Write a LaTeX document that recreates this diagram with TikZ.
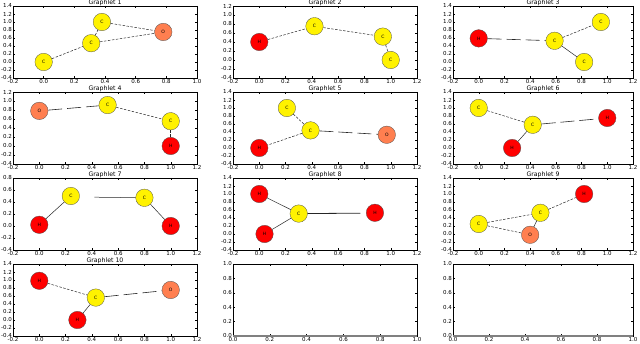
\documentclass[tikz,border=0pt]{standalone}
\usepackage{fontspec}
\setmainfont{DejaVu Sans}
\usepackage{tikz}

\definecolor{coral}{RGB}{255,127,80}

\newcommand{\ticksA}{-0.2,0.0,0.2,0.4,0.6,0.8,1.0}
\newcommand{\ticksB}{-0.2,0.0,0.2,0.4,0.6,0.8,1.0,1.2}
\newcommand{\ticksC}{-0.4,-0.2,0.0,0.2,0.4,0.6,0.8,1.0,1.2,1.4}
\newcommand{\ticksD}{-0.4,-0.2,0.0,0.2,0.4,0.6,0.8,1.0,1.2}
\newcommand{\ticksE}{-0.4,-0.2,0.0,0.2,0.4,0.6,0.8}
\newcommand{\ticksF}{0.0,0.2,0.4,0.6,0.8,1.0}

\tikzset{
    atom/.style={circle,draw=black!70,line width=0.3pt,minimum size=17.5pt,
        inner sep=0pt,font=\fontsize{4.5}{5}\selectfont},
    carbon/.style={atom,fill=yellow},
    hydrogen/.style={atom,fill=red},
    oxygen/.style={atom,fill=coral},
    bond/.style={line width=0.5pt,black!85,dash pattern=on 2.5pt off 1.5pt},
    longbond/.style={line width=0.6pt,black!85,dash pattern=on 14pt off 5pt},
    solidbond/.style={line width=0.5pt,black!85},
    ticklabel/.style={inner sep=1pt,font=\fontsize{5.5}{6}\selectfont},
    paneltitle/.style={inner sep=0.5pt,font=\fontsize{6.2}{7}\selectfont},
}

\newcommand{\panelframe}[8]{%
    \draw[line width=0.6pt] (#1,#3) rectangle (#2,#4);
    \foreach \t [count=\i] in #5 {
        \draw (\t,#3) -- ++(0,2pt) (\t,#4) -- ++(0,-2pt);
        \node[ticklabel,below] (#8x\i) at (\t,#3) {\t};
    }
    \foreach \t [count=\i] in #6 {
        \draw (#1,\t) -- ++(2pt,0) (#2,\t) -- ++(-2pt,0);
        \node[ticklabel,left] (#8y\i) at (#1,\t) {\t};
    }
    \node[paneltitle,above] (#8t) at ({(#1+#2)/2},#4) {#7};
}

\begin{document}
\begin{tikzpicture}[x=1pt,y=1pt]
    \useasboundingbox (0,0) rectangle (640,344);

    \begin{scope}[shift={(13,266)},x=153.33pt,y=40pt,shift={(0.2,0.4)}]
        \panelframe{-0.2}{1.0}{-0.4}{1.4}{\ticksA}{\ticksC}{Graphlet 1}{g1}
        \node[carbon] (g1a) at (0,0) {C};
        \node[carbon] (g1b) at (0.31,0.47) {C};
        \node[carbon] (g1c) at (0.38,1.0) {C};
        \node[oxygen] (g1d) at (0.78,0.75) {O};
        \draw[bond] (g1a) -- (g1b);
        \draw[bond] (g1b) -- (g1c);
        \draw[bond] (g1c) -- (g1d);
        \draw[bond] (g1b) -- (g1d);
    \end{scope}

    \begin{scope}[shift={(233,266)},x=131.43pt,y=45pt,shift={(0.2,0.4)}]
        \panelframe{-0.2}{1.2}{-0.4}{1.2}{\ticksB}{\ticksD}{Graphlet 2}{g2}
        \node[hydrogen] (g2a) at (0,0.4) {H};
        \node[carbon] (g2b) at (0.42,0.75) {C};
        \node[carbon] (g2c) at (0.94,0.52) {C};
        \node[carbon] (g2d) at (1.0,0.0) {C};
        \draw[bond] (g2a) -- (g2b);
        \draw[bond] (g2b) -- (g2c);
        \draw[bond] (g2c) -- (g2d);
    \end{scope}

    \begin{scope}[shift={(453,266)},x=128.57pt,y=40pt,shift={(0.2,0.4)}]
        \panelframe{-0.2}{1.2}{-0.4}{1.4}{\ticksB}{\ticksC}{Graphlet 3}{g3}
        \node[hydrogen] (g3a) at (0,0.59) {H};
        \node[carbon] (g3b) at (0.59,0.53) {C};
        \node[carbon] (g3c) at (0.95,1.0) {C};
        \node[carbon] (g3d) at (0.82,0.0) {C};
        \draw[longbond] (g3a) -- (g3b);
        \draw[bond] (g3b) -- (g3c);
        \draw[solidbond] (g3b) -- (g3d);
    \end{scope}

    \begin{scope}[shift={(13,180)},x=131.43pt,y=45pt,shift={(0.2,0.4)}]
        \panelframe{-0.2}{1.2}{-0.4}{1.2}{\ticksB}{\ticksD}{Graphlet 4}{g4}
        \node[oxygen] (g4a) at (0,0.78) {O};
        \node[carbon] (g4b) at (0.52,0.91) {C};
        \node[carbon] (g4c) at (1.0,0.55) {C};
        \node[hydrogen] (g4d) at (1.0,0.0) {H};
        \draw[longbond] (g4a) -- (g4b);
        \draw[bond] (g4b) -- (g4c);
        \draw[bond] (g4c) -- (g4d);
    \end{scope}

    \begin{scope}[shift={(233,180)},x=131.43pt,y=40pt,shift={(0.2,0.4)}]
        \panelframe{-0.2}{1.2}{-0.4}{1.4}{\ticksB}{\ticksC}{Graphlet 5}{g5}
        \node[carbon] (g5a) at (0.21,1.0) {C};
        \node[carbon] (g5b) at (0.39,0.44) {C};
        \node[hydrogen] (g5c) at (0,0) {H};
        \node[oxygen] (g5d) at (0.97,0.33) {O};
        \draw[bond] (g5a) -- (g5b);
        \draw[bond] (g5b) -- (g5c);
        \draw[longbond] (g5b) -- (g5d);
    \end{scope}

    \begin{scope}[shift={(453,180)},x=128.57pt,y=40pt,shift={(0.2,0.4)}]
        \panelframe{-0.2}{1.2}{-0.4}{1.4}{\ticksB}{\ticksC}{Graphlet 6}{g6}
        \node[carbon] (g6a) at (0,1.0) {C};
        \node[carbon] (g6b) at (0.42,0.58) {C};
        \node[hydrogen] (g6c) at (0.26,0) {H};
        \node[hydrogen] (g6d) at (1.0,0.75) {H};
        \draw[bond] (g6a) -- (g6b);
        \draw[solidbond] (g6b) -- (g6c);
        \draw[longbond] (g6b) -- (g6d);
    \end{scope}

    \begin{scope}[shift={(13,94)},x=131.43pt,y=60pt,shift={(0.2,0.4)}]
        \panelframe{-0.2}{1.2}{-0.4}{0.8}{\ticksB}{\ticksE}{Graphlet 7}{g7}
        \node[hydrogen] (g7a) at (0,0.02) {H};
        \node[carbon] (g7b) at (0.24,0.5) {C};
        \node[carbon] (g7c) at (0.8,0.47) {C};
        \node[hydrogen] (g7d) at (1.0,0.0) {H};
        \coordinate (g7e) at (0.42,0.48);
        \draw[solidbond] (g7a) -- (g7b);
        \draw[solidbond] (g7e) -- (g7c);
        \draw[solidbond] (g7c) -- (g7d);
    \end{scope}

    \begin{scope}[shift={(233,94)},x=131.43pt,y=40pt,shift={(0.2,0.4)}]
        \panelframe{-0.2}{1.2}{-0.4}{1.4}{\ticksB}{\ticksC}{Graphlet 8}{g8}
        \node[hydrogen] (g8a) at (0,1.0) {H};
        \node[carbon] (g8b) at (0.3,0.51) {C};
        \node[hydrogen] (g8c) at (0.04,0) {H};
        \node[hydrogen] (g8d) at (0.88,0.53) {H};
        \coordinate (g8e) at (0.77,0.52);
        \draw[solidbond] (g8a) -- (g8b);
        \draw[solidbond] (g8b) -- (g8c);
        \draw[solidbond,line width=0.8pt] (g8b) -- (g8e);
    \end{scope}

    \begin{scope}[shift={(453,94)},x=128.57pt,y=40pt,shift={(0.2,0.4)}]
        \panelframe{-0.2}{1.2}{-0.4}{1.4}{\ticksB}{\ticksC}{Graphlet 9}{g9}
        \node[carbon] (g9a) at (0,0.25) {C};
        \node[carbon] (g9b) at (0.48,0.53) {C};
        \node[hydrogen] (g9c) at (0.82,1.0) {H};
        \node[oxygen] (g9d) at (0.40,-0.02) {O};
        \draw[bond] (g9a) -- (g9b);
        \draw[bond] (g9a) -- (g9d);
        \draw[bond] (g9b) -- (g9c);
        \draw[solidbond] (g9b) -- (g9d);
    \end{scope}

    \begin{scope}[shift={(13,8)},x=131.43pt,y=40pt,shift={(0.2,0.4)}]
        \panelframe{-0.2}{1.2}{-0.4}{1.4}{\ticksB}{\ticksC}{Graphlet 10}{g10}
        \node[hydrogen] (g10a) at (0,0.98) {H};
        \node[carbon] (g10b) at (0.43,0.56) {C};
        \node[hydrogen] (g10c) at (0.29,0) {H};
        \node[oxygen] (g10d) at (1.0,0.75) {O};
        \draw[bond] (g10a) -- (g10b);
        \draw[solidbond] (g10b) -- (g10c);
        \draw[longbond] (g10b) -- (g10d);
    \end{scope}

    \begin{scope}[shift={(233,8)},x=184pt,y=72pt]
        \panelframe{0.0}{1.0}{0.0}{1.0}{\ticksF}{\ticksF}{}{e1}
        \draw[gray,line width=1.2pt] (0,0) -- (1,0);
    \end{scope}

    \begin{scope}[shift={(453,8)},x=180pt,y=72pt]
        \panelframe{0.0}{1.0}{0.0}{1.0}{\ticksF}{\ticksF}{}{e2}
        \draw[gray,line width=1.2pt] (0,0) -- (1,0);
    \end{scope}
\end{tikzpicture}
\end{document}
